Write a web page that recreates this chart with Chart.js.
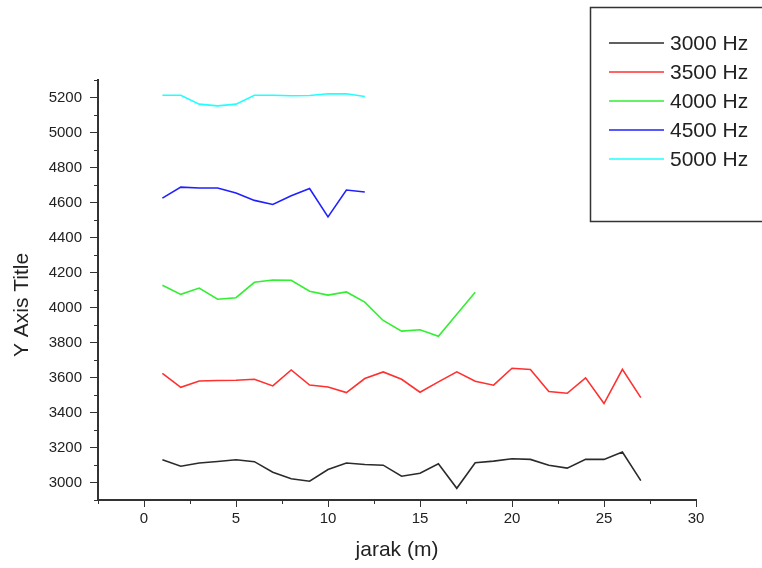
<!DOCTYPE html>
<html>
<head>
<meta charset="utf-8">
<script src="https://cdn.jsdelivr.net/npm/chart.js@4.4.0/dist/chart.umd.min.js"></script>
<style>
  html, body { margin: 0; padding: 0; background: #fff; }
  canvas { display: block; }
</style>
</head>
<body>
<canvas id="myChart" width="762" height="568"></canvas>
<script>
// distance in metres
const jarak = [1, 2, 3, 4, 5, 6, 7, 8, 9, 10, 11, 12, 13, 14, 15, 16, 17, 18, 19, 20, 21, 22, 23, 24, 25, 26, 27]

const hz3000 = [3130, 3093, 3111, 3120, 3130, 3119, 3059, 3021, 3007, 3074, 3111, 3103, 3099, 3036,
  3053, 3107, 2967, 3113, 3122, 3136, 3132, 3099, 3082, 3132, 3132, 3174, 3011]
const hz3500 = [3623, 3544, 3580, 3583, 3584, 3590, 3552, 3643, 3557, 3546, 3514, 3594, 3632, 3590,
  3516, 3575, 3632, 3579, 3556, 3653, 3646, 3520, 3510, 3598, 3451, 3647, 3485]
const hz4000 = [4127, 4075, 4111, 4047, 4056, 4144, 4157, 4156, 4093, 4071, 4089, 4031, 3926, 3865,
  3873, 3836, 3962, 4087]
const hz4500 = [4625, 4688, 4683, 4683, 4654, 4612, 4589, 4638, 4680, 4518, 4671, 4660]
const hz5000 = [5213, 5213, 5162, 5152, 5162, 5213, 5213, 5210, 5211, 5221, 5221, 5206]

const seriesLabels = ['3000 Hz', '3500 Hz', '4000 Hz', '4500 Hz', '5000 Hz']
const seriesColors = ['#2b2b2b', '#ff3030', '#33ee33', '#2020ff', '#22ffff']
const seriesValues = [hz3000, hz3500, hz4000, hz4500, hz5000]

const FONT = 'Liberation Sans, Arial, sans-serif'
const AXIS_COLOR = '#333'

/**
 * Pair each value with its distance.
 *
 * @param {number[]} values - The y values of one series.
 * @returns {object[]} Points for a linear x axis.
 */
function toPoints (values) {
  return values.map((v, i) => ({ x: jarak[i], y: v }))
}

// major ticks get the long grid tick, minor ones are drawn short below
const isMajorX = (value) => value % 5 === 0
const isMajorY = (value) => value % 200 === 0

// legend box, minor ticks and rotated y title, drawn after the chart
const extras = {
  id: 'extras',
  afterDraw (chart) {
    const ctx = chart.ctx
    const { x, y } = chart.scales
    ctx.save()

    // minor ticks
    ctx.strokeStyle = AXIS_COLOR
    ctx.lineWidth = 1
    ctx.beginPath()
    x.ticks.forEach(t => {
      if (isMajorX(t.value)) return
      const px = Math.round(x.getPixelForValue(t.value)) + 0.5
      ctx.moveTo(px, x.top)
      ctx.lineTo(px, x.top + 4)
    })
    y.ticks.forEach(t => {
      if (isMajorY(t.value)) return
      const py = Math.round(y.getPixelForValue(t.value)) + 0.5
      ctx.moveTo(y.right, py)
      ctx.lineTo(y.right - 4, py)
    })
    ctx.stroke()

    // legend frame (runs off the right edge)
    ctx.strokeStyle = AXIS_COLOR
    ctx.lineWidth = 1.5
    ctx.strokeRect(590.5, 7.5, 220, 214)

    ctx.font = `21px ${FONT}`
    ctx.textBaseline = 'middle'
    ctx.textAlign = 'left'
    chart.data.datasets.forEach((ds, i) => {
      const ly = 43 + i * 29
      ctx.strokeStyle = ds.borderColor
      ctx.lineWidth = 1.6
      ctx.beginPath()
      ctx.moveTo(609, ly)
      ctx.lineTo(664, ly)
      ctx.stroke()
      ctx.fillStyle = '#222'
      ctx.fillText(ds.label, 670, ly + 1)
    })

    // y axis title
    ctx.translate(22, 305)
    ctx.rotate(-Math.PI / 2)
    ctx.textAlign = 'center'
    ctx.fillStyle = '#222'
    ctx.fillText('Y Axis Title', 0, 0)
    ctx.restore()
  }
}

const ctx = document.getElementById('myChart').getContext('2d')

new Chart(ctx, {
  type: 'line',
  data: {
    datasets: seriesValues.map((values, i) => ({
      label: seriesLabels[i],
      data: toPoints(values),
      borderColor: seriesColors[i],
      backgroundColor: seriesColors[i],
      borderWidth: 1.6,
      pointRadius: 0,
      tension: 0,
      fill: false
    }))
  },
  options: {
    responsive: false,
    animation: false,
    layout: {
      padding: { left: 0, top: 80, right: 66, bottom: 0 }
    },
    scales: {
      x: {
        type: 'linear',
        min: -2.5,
        max: 30,
        afterFit: (scale) => { scale.height = 68 },
        ticks: {
          stepSize: 2.5,
          autoSkip: false,
          maxRotation: 0,
          padding: 3,
          color: '#222',
          font: { family: FONT, size: 15 },
          callback: (value) => (isMajorX(value) ? value : '')
        },
        grid: {
          display: true,
          drawOnChartArea: false,
          drawTicks: true,
          tickLength: 7,
          color: (c) => (c.tick && isMajorX(c.tick.value) ? AXIS_COLOR : 'rgba(0,0,0,0)'),
          lineWidth: 1
        },
        border: { display: true, color: AXIS_COLOR, width: 2 },
        title: {
          display: true,
          text: 'jarak (m)',
          color: '#222',
          font: { family: FONT, size: 21 },
          padding: { top: 0, bottom: 5 }
        }
      },
      y: {
        min: 2900,
        max: 5300,
        afterFit: (scale) => { scale.width = 98 },
        ticks: {
          stepSize: 100,
          autoSkip: false,
          padding: 8,
          color: '#222',
          font: { family: FONT, size: 15 },
          callback: (value) => (isMajorY(value) && value < 5300 && value > 2900 ? value : '')
        },
        grid: {
          display: true,
          drawOnChartArea: false,
          drawTicks: true,
          tickLength: 8,
          color: (c) => (c.tick && isMajorY(c.tick.value) && c.tick.value < 5300 ? AXIS_COLOR : 'rgba(0,0,0,0)'),
          lineWidth: 1
        },
        border: { display: true, color: AXIS_COLOR, width: 2 }
      }
    },
    plugins: {
      legend: { display: false },
      tooltip: { enabled: false }
    }
  },
  plugins: [extras]
})
</script>
</body>
</html>
